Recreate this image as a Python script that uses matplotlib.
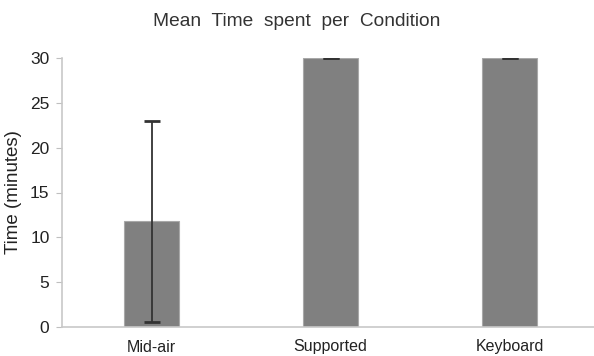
import matplotlib
matplotlib.use("Agg")
import matplotlib.pyplot as plt

conditions = ["Mid-air", "Supported", "Keyboard"]
mean_time = [11.8, 30.0, 30.0]
err_time = [11.2, 0.0, 0.0]
yticks = [0, 5, 10, 15, 20, 25, 30]

plt.rcParams["font.family"] = ["Liberation Sans", "DejaVu Sans"]

fig = plt.figure(figsize=(5.94, 3.56), dpi=100)
ax = fig.add_axes([62 / 594, (356 - 327) / 356, 537 / 594, 269 / 356])

x = range(len(conditions))
ax.bar(x, mean_time, width=0.31, color="#808080", edgecolor="#a8a8a8", linewidth=0.8,
       yerr=err_time, error_kw=dict(ecolor="#333333", elinewidth=1.3, capsize=6, capthick=2))

ax.set_xlim(-0.5, 2.5)
ax.set_ylim(0, 30)
ax.set_yticks(yticks)
ax.set_xticks(list(x))
ax.set_xticklabels(conditions, fontsize=11.5, color="#222222")
ax.tick_params(axis="y", labelsize=12.5, colors="#222222", length=4, color="#bfbfbf", pad=5)
ax.tick_params(axis="x", length=0, pad=9)
for s in ["top", "right"]:
    ax.spines[s].set_visible(False)
for s in ["left", "bottom"]:
    ax.spines[s].set_color("#c8c8c8")
    ax.spines[s].set_linewidth(1.2)
ax.set_ylabel("Time (minutes)", fontsize=13.5, color="#222222", labelpad=6)

fig.text(0.5, 1 - 21 / 356, "Mean  Time  spent  per  Condition", ha="center", va="center",
         fontsize=13.8, color="#333333")

fig.savefig("out.png", dpi=100)
